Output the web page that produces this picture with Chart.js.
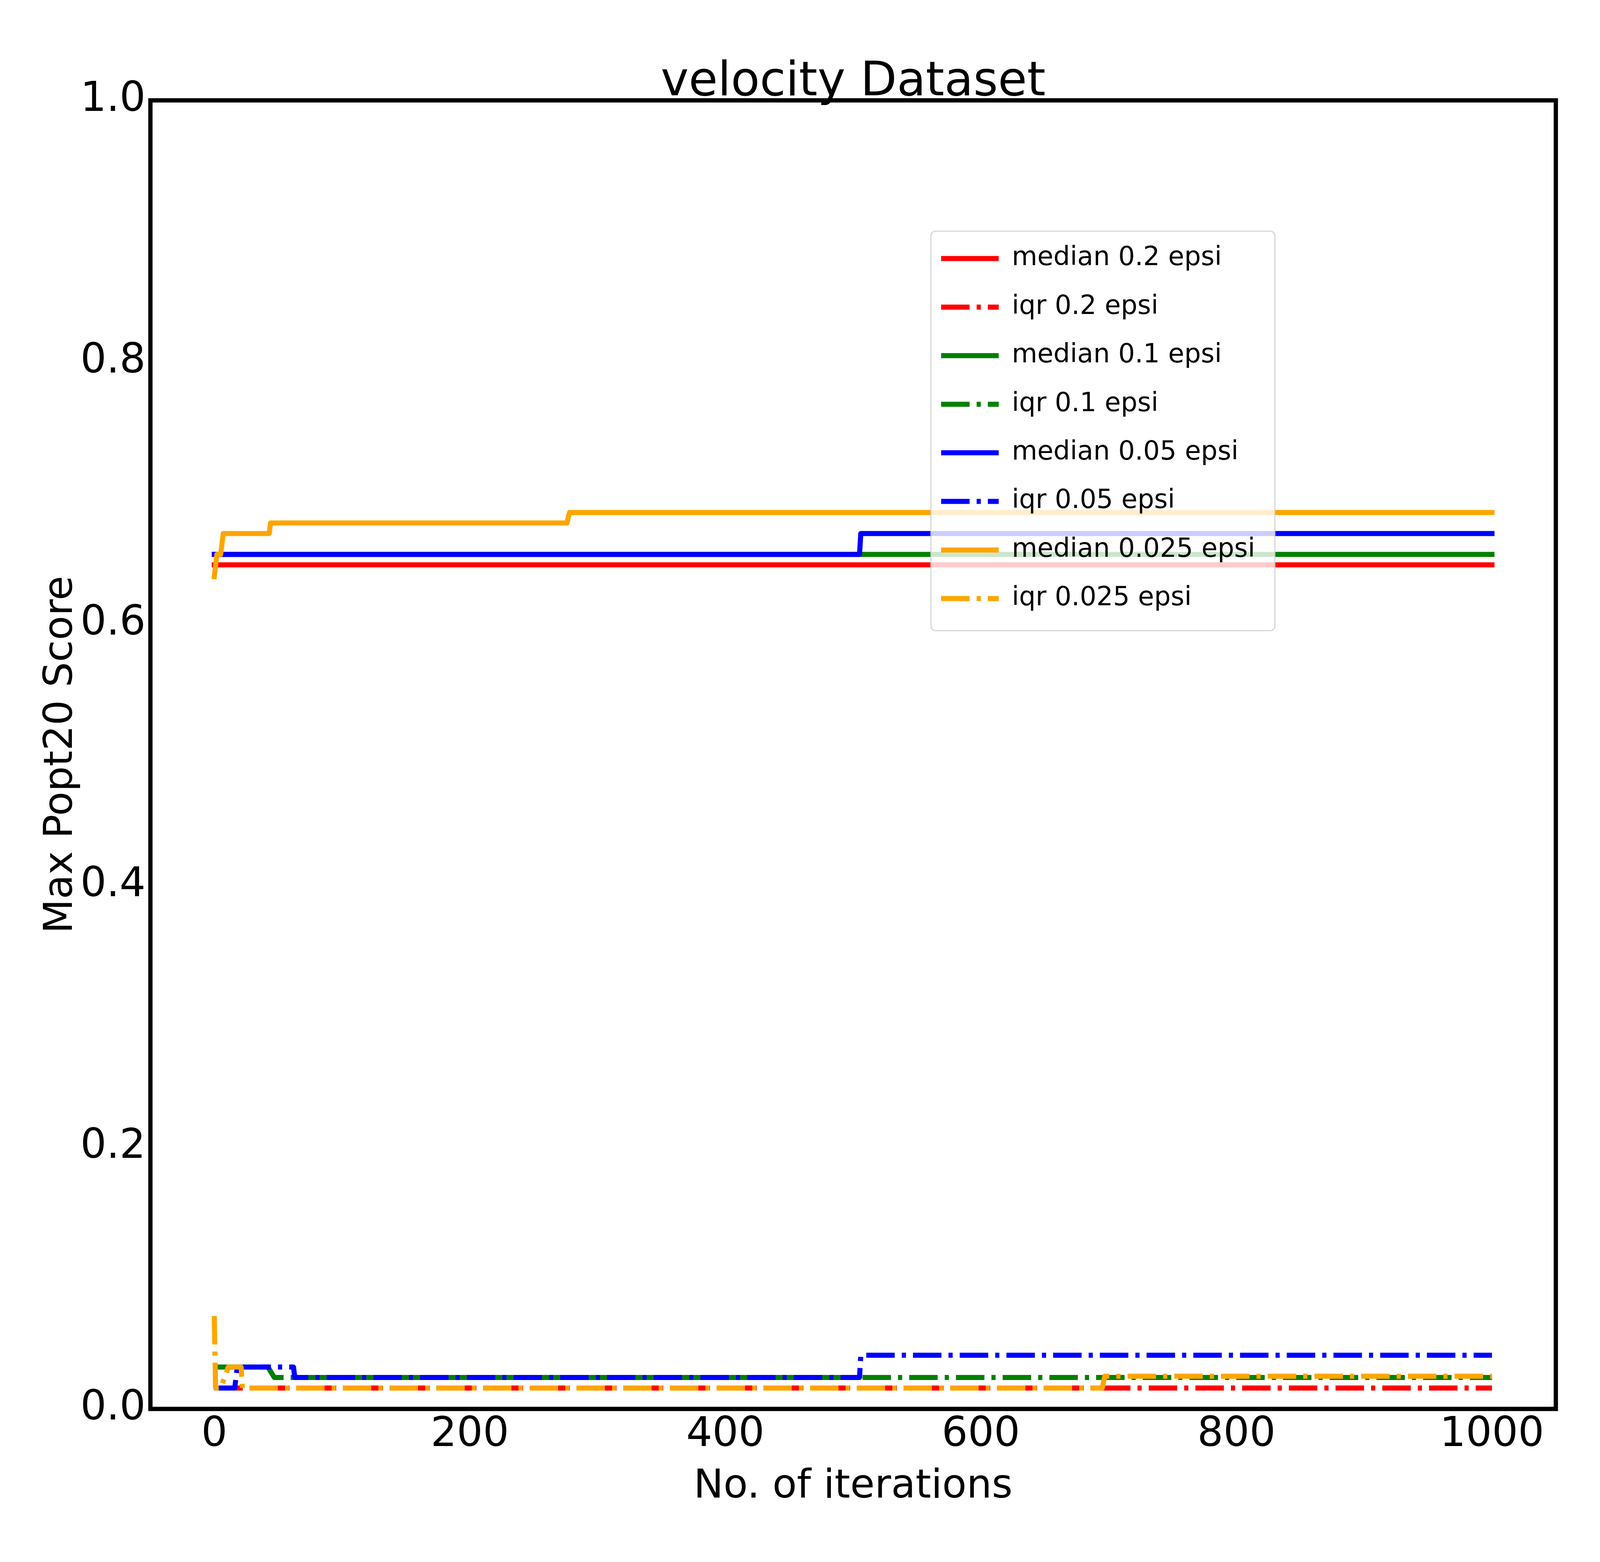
<!DOCTYPE html>
<html>
<head>
<meta charset="utf-8">
<title>velocity Dataset</title>
<script src="https://cdn.jsdelivr.net/npm/chart.js@4.4.1/dist/chart.umd.min.js"></script>
<style>
    html, body { margin: 0; padding: 0; background: #ffffff; overflow: hidden; }
    canvas { display: block; }
</style>
</head>
<body>
<canvas id="chart"></canvas>
<script>
// --- 1. Data ---
const xTicks = [0, 200, 400, 600, 800, 1000];
const yTicks = [0.0, 0.2, 0.4, 0.6, 0.8, 1.0];

const seriesNames = [
    'median 0.2 epsi', 'iqr 0.2 epsi',
    'median 0.1 epsi', 'iqr 0.1 epsi',
    'median 0.05 epsi', 'iqr 0.05 epsi',
    'median 0.025 epsi', 'iqr 0.025 epsi'
];

const itersMed02 = [0, 1000];
const valsMed02 = [0.645, 0.645];
const itersIqr02 = [0, 1000];
const valsIqr02 = [0.016, 0.016];

const itersMed01 = [0, 1000];
const valsMed01 = [0.653, 0.653];
const itersIqr01 = [0, 42, 47, 1000];
const valsIqr01 = [0.032, 0.032, 0.024, 0.024];

const itersMed005 = [0, 505, 506, 1000];
const valsMed005 = [0.653, 0.653, 0.669, 0.669];
const itersIqr005 = [0, 16, 18, 62, 63, 505, 506, 1000];
const valsIqr005 = [0.016, 0.016, 0.032, 0.032, 0.024, 0.024, 0.041, 0.041];

const itersMed0025 = [0, 2, 5, 7, 43, 44, 276, 278, 1000];
const valsMed0025 = [0.636, 0.653, 0.653, 0.669, 0.669, 0.677, 0.677, 0.685, 0.685];
const itersIqr0025 = [0, 1, 5, 11, 21, 22, 695, 697, 1000];
const valsIqr0025 = [0.071, 0.016, 0.016, 0.032, 0.032, 0.016, 0.016, 0.025, 0.025];

const allIters = [itersMed02, itersIqr02, itersMed01, itersIqr01, itersMed005, itersIqr005, itersMed0025, itersIqr0025];
const allVals = [valsMed02, valsIqr02, valsMed01, valsIqr01, valsMed005, valsIqr005, valsMed0025, valsIqr0025];

// --- 2. Page size + styles ---
// layout is measured on a 5000x4000 picture, then scaled to whatever the window really is
const W = window.innerWidth || 5000;
const H = window.innerHeight || 4000;
const sx = W / 5000, sy = H / 4000;
const X = (v) => v * sx;
const Y = (v) => v * sy;
const F = (v) => Math.round(v * sx);   // font sizes follow the width so texts keep their span

const canvas = document.getElementById('chart');
canvas.width = W;
canvas.height = H;

const lineColors = ['#ff0000', '#ff0000', '#008000', '#008000', '#0000ff', '#0000ff', '#ffa500', '#ffa500'];
const DASH_DOT = [89, 22, 13, 22].map(X);
const LINE_W = 13;
const FONT = "'DejaVu Sans', 'Liberation Sans', sans-serif";
const ASC = 0.297; // DejaVu: alphabetic baseline sits this many em below the 'middle' line

// plot box, texts and legend (reference pixels)
const AXES_LEFT = X(470), AXES_TOP = Y(257), AXES_RIGHT = X(4862), AXES_BOTTOM = Y(3608);
const TITLE_SIZE = F(148), TICK_SIZE = F(128), LABEL_SIZE = F(125), LEG_FONT = F(82);
const LEG_BOX = { x: X(2909), y: Y(592), w: X(1075), h: Y(1023), r: 12 };
const LEG_LINE_X = X(2941), LEG_LINE_LEN = X(180);
const LEG_FIRST_ROW = Y(662), LEG_ROW_STEP = Y(124.4);
const LEG_PAD = LEG_ROW_STEP - LEG_FONT;

// title: baseline at y=248
const titleLH = TITLE_SIZE * 0.7;
const titleMid = Y(248) - ASC * TITLE_SIZE;
const titlePadTop = titleMid - titleLH / 2;
const titlePadBottom = AXES_TOP - titlePadTop - titleLH;

// x label: baseline at y=3839
const labelLH = LABEL_SIZE * 1.2;
const xLabelPadBottom = H - (Y(3839) - ASC * LABEL_SIZE) - labelLH / 2;
// y label (rotated): baseline at x=229
const yLabelPadTop = (X(229) - ASC * LABEL_SIZE) - labelLH / 2;

Chart.defaults.font.family = FONT;
Chart.defaults.color = '#000000';

const datasets = seriesNames.map((name, i) => {
    const dashed = i % 2 === 1;
    return {
        label: name,
        data: allIters[i].map((x, k) => ({ x: x, y: allVals[i][k] })),
        borderColor: lineColors[i],
        backgroundColor: lineColors[i],
        borderWidth: LINE_W,
        borderDash: dashed ? DASH_DOT : [],
        borderCapStyle: dashed ? 'butt' : 'square',
        borderJoinStyle: 'round',
        pointRadius: 0,
        pointHoverRadius: 0,
        tension: 0,
        fill: false,
        order: seriesNames.length - 1 - i // later series drawn on top, like matplotlib
    };
});

// --- 3. Frame + legend placement plugin ---
const frameAndLegend = {
    id: 'frameAndLegend',
    beforeLayout(chart) {
        // draw the legend above the lines
        const lg = chart.legend;
        if (lg) lg._layers = () => [{ z: 10, draw: (area) => lg.draw(area) }];
    },
    afterUpdate(chart) {
        const lg = chart.legend;
        if (!lg) return;
        lg.left = LEG_LINE_X - LEG_PAD;
        lg.top = LEG_FIRST_ROW - LEG_FONT / 2 - LEG_PAD;
        lg.right = lg.left + LEG_BOX.w + 200;
        lg.bottom = lg.top + LEG_BOX.h + 200;
        lg.adjustHitBoxes();
    },
    afterDatasetsDraw(chart) {
        const ctx = chart.ctx;
        const a = chart.chartArea;
        ctx.save();
        // axes frame (all four spines)
        ctx.strokeStyle = '#000000';
        ctx.lineWidth = 11;
        ctx.lineJoin = 'miter';
        ctx.strokeRect(a.left, a.top, a.right - a.left, a.bottom - a.top);
        // legend frame, semi transparent
        ctx.beginPath();
        ctx.roundRect(LEG_BOX.x, LEG_BOX.y, LEG_BOX.w, LEG_BOX.h, LEG_BOX.r);
        ctx.fillStyle = 'rgba(255,255,255,0.8)';
        ctx.fill();
        ctx.lineWidth = 3;
        ctx.strokeStyle = 'rgba(204,204,204,0.8)';
        ctx.stroke();
        ctx.restore();
    }
};

// legend samples: keep each dataset's own dash and width
const legendLabels = (chart) => {
    const items = Chart.defaults.plugins.legend.labels.generateLabels(chart);
    items.forEach(item => {
        const ds = chart.data.datasets[item.datasetIndex];
        item.lineDash = ds.borderDash;
        item.lineWidth = ds.borderWidth;
        item.lineCap = 'butt';
        item.strokeStyle = ds.borderColor;
        item.pointStyle = 'line';
    });
    return items;
};

// --- 4. Chart ---
new Chart(canvas, {
    type: 'line',
    data: { datasets: datasets },
    options: {
        responsive: false,
        maintainAspectRatio: false,
        devicePixelRatio: 1,
        animation: false,
        events: [],
        layout: { padding: { left: 0, top: 0, right: W - AXES_RIGHT, bottom: 0 } },
        plugins: {
            title: {
                display: true,
                text: 'velocity Dataset',
                fullSize: false,
                color: '#000000',
                font: { family: FONT, size: TITLE_SIZE, weight: 'normal', lineHeight: 0.7 },
                padding: { top: titlePadTop, bottom: titlePadBottom }
            },
            legend: {
                display: true,
                position: 'chartArea',
                align: 'start',
                labels: {
                    color: '#000000',
                    font: { family: FONT, size: LEG_FONT },
                    usePointStyle: true,
                    pointStyle: 'line',
                    pointStyleWidth: LEG_LINE_LEN,
                    padding: LEG_PAD,
                    generateLabels: legendLabels,
                    sort: (a, b) => a.datasetIndex - b.datasetIndex
                }
            },
            tooltip: { enabled: false }
        },
        scales: {
            x: {
                type: 'linear',
                min: -50,
                max: 1050,
                afterFit: (scale) => { scale.height = H - AXES_BOTTOM; },
                afterBuildTicks: (scale) => { scale.ticks = xTicks.map(v => ({ value: v })); },
                grid: { display: false, drawTicks: false },
                border: { display: false },
                ticks: {
                    autoSkip: false,
                    maxRotation: 0,
                    padding: Y(3620) - AXES_BOTTOM - 0.068 * TICK_SIZE,
                    color: '#000000',
                    font: { family: FONT, size: TICK_SIZE },
                    callback: (v) => String(v)
                },
                title: {
                    display: true,
                    text: 'No. of iterations',
                    color: '#000000',
                    font: { family: FONT, size: LABEL_SIZE, lineHeight: 1.2 },
                    padding: { top: 0, bottom: xLabelPadBottom }
                }
            },
            y: {
                type: 'linear',
                min: 0,
                max: 1,
                afterFit: (scale) => { scale.width = AXES_LEFT; },
                afterBuildTicks: (scale) => { scale.ticks = yTicks.map(v => ({ value: v })); },
                grid: { display: false, drawTicks: false },
                border: { display: false },
                ticks: {
                    autoSkip: false,
                    padding: X(15),
                    color: '#000000',
                    font: { family: FONT, size: TICK_SIZE },
                    callback: (v) => Number(v).toFixed(1)
                },
                title: {
                    display: true,
                    text: 'Max Popt20 Score',
                    color: '#000000',
                    font: { family: FONT, size: LABEL_SIZE, lineHeight: 1.2 },
                    padding: { top: yLabelPadTop, bottom: 0 }
                }
            }
        }
    },
    plugins: [frameAndLegend]
});
</script>
</body>
</html>
